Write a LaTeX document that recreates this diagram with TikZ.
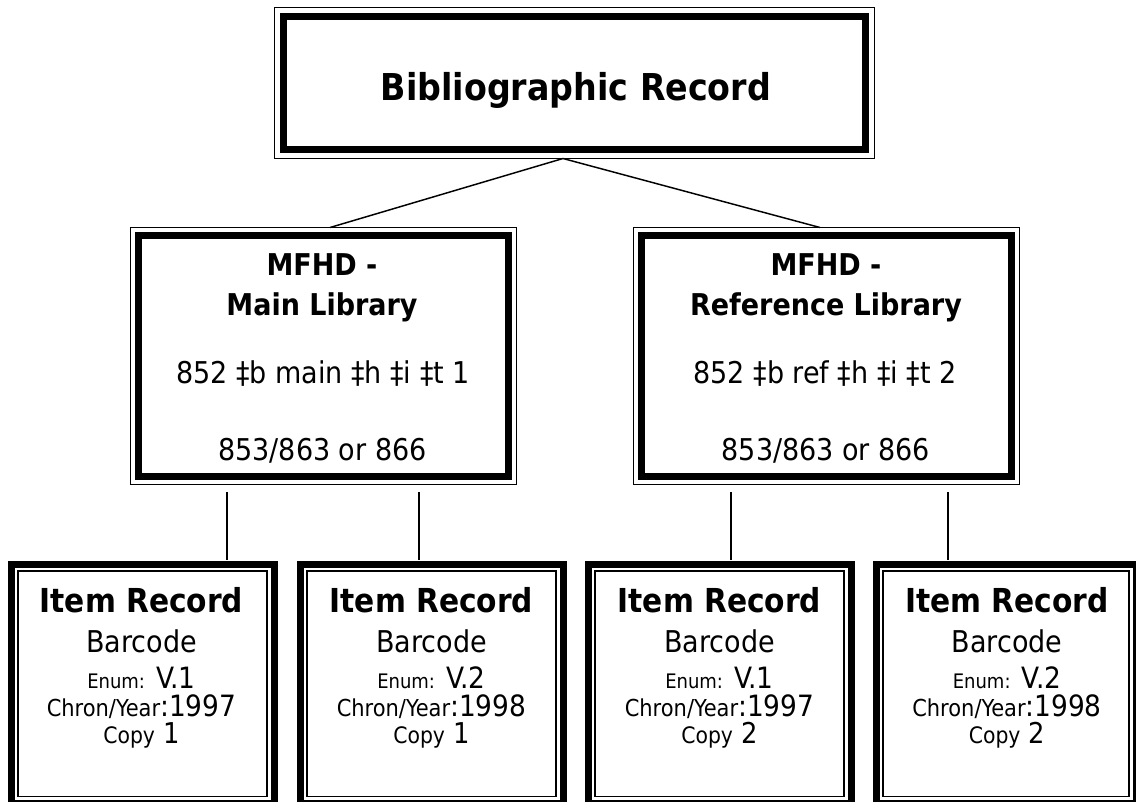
\documentclass[tikz,border=0pt]{standalone}
\usepackage{fontspec}
\setmainfont{DejaVu Sans Condensed}
\usetikzlibrary{calc}

\newcommand{\sz}[1]{\fontsize{#1}{#1}\selectfont}

\tikzset{
    thickbox/.style={draw, line width=5.25pt, outer sep=0pt, inner sep=0pt},
    thinline/.style={line width=1.1pt},
    link/.style={line width=1.1pt},
    txt/.style={anchor=base, inner sep=0pt},
    titlefont/.style={txt, font=\sz{27.75pt}\bfseries},
    headfont/.style={txt, font=\sz{22.5pt}\bfseries},
    bodyfont/.style={txt, font=\sz{22.5pt}},
    itemfont/.style={txt, font=\sz{24.75pt}\bfseries},
}

\begin{document}
\begin{tikzpicture}[x=0.75pt, y=-0.75pt]

    \useasboundingbox (0,0) rectangle (1136,801);
    \clip (0,0) rectangle (1136,801);

    % Bibliographic record box
    \node at (574.5, 83) (bib) [thickbox, minimum width=436.5pt, minimum height=99.75pt] {};
    \draw[thinline] ([shift={(-9,-9)}]bib.north west) rectangle ([shift={(9,9)}]bib.south east);
    \node at (576, 100) (bibtxt) [titlefont] {Bibliographic Record};

    % MFHD boxes
    \node at (323.5, 356) (mfhdL) [thickbox, minimum width=277.5pt, minimum height=180.75pt] {};
    \draw[thinline] ([shift={(-8,-8)}]mfhdL.north west) rectangle ([shift={(8,8)}]mfhdL.south east);
    \node at (826.5, 356) (mfhdR) [thickbox, minimum width=277.5pt, minimum height=180.75pt] {};
    \draw[thinline] ([shift={(-8,-8)}]mfhdR.north west) rectangle ([shift={(8,8)}]mfhdR.south east);

    % Text of the left MFHD
    \node at (322, 275) (mfhdLa) [headfont] {MFHD -};
    \node at (322, 315) (mfhdLb) [headfont] {Main Library};
    \node at (323, 383) (mfhdLc) [bodyfont] {852 ‡b main ‡h ‡i ‡t 1};
    \node at (322.5, 460) (mfhdLd) [bodyfont] {853/863 or 866};

    % Text of the right MFHD
    \node at (826, 275) (mfhdRa) [headfont] {MFHD -};
    \node at (826, 315) (mfhdRb) [headfont] {Reference Library};
    \node at (825, 383) (mfhdRc) [bodyfont] {852 ‡b ref ‡h ‡i ‡t 2};
    \node at (826, 460) (mfhdRd) [bodyfont] {853/863 or 866};

    % Item boxes
    \node at (142.5, 683.75) (item1) [thickbox, minimum width=197.25pt, minimum height=179.6pt] {};
    \draw[thinline] ([shift={(7,7)}]item1.north west) rectangle ([shift={(-7,-7)}]item1.south east);
    \node at (431.5, 683.75) (item2) [thickbox, minimum width=197.25pt, minimum height=179.6pt] {};
    \draw[thinline] ([shift={(7,7)}]item2.north west) rectangle ([shift={(-7,-7)}]item2.south east);
    \node at (719.5, 683.75) (item3) [thickbox, minimum width=197.25pt, minimum height=179.6pt] {};
    \draw[thinline] ([shift={(7,7)}]item3.north west) rectangle ([shift={(-7,-7)}]item3.south east);
    \node at (1006, 683.75) (item4) [thickbox, minimum width=195pt, minimum height=179.6pt] {};
    \draw[thinline] ([shift={(7,7)}]item4.north west) rectangle ([shift={(-7,-7)}]item4.south east);

    % Text of item 1
    \node at (141.5, 612) (item1a) [itemfont] {Item Record};
    \node at (141.5, 652) (item1b) [bodyfont] {Barcode};
    \node at (141.5, 688) (item1c) [txt] {{\sz{15pt}Enum:}{\sz{22pt} V.1}};
    \node at (141.5, 716) (item1d) [txt] {{\sz{17.5pt}Chron/Year}{\sz{22pt}:1997}};
    \node at (141.5, 743) (item1e) [txt] {{\sz{17pt}Copy}{\sz{21.5pt} 1}};

    % Text of item 2
    \node at (431.5, 612) (item2a) [itemfont] {Item Record};
    \node at (431.5, 652) (item2b) [bodyfont] {Barcode};
    \node at (431.5, 688) (item2c) [txt] {{\sz{15pt}Enum:}{\sz{22pt} V.2}};
    \node at (431.5, 716) (item2d) [txt] {{\sz{17.5pt}Chron/Year}{\sz{22pt}:1998}};
    \node at (431.5, 743) (item2e) [txt] {{\sz{17pt}Copy}{\sz{21.5pt} 1}};

    % Text of item 3
    \node at (719.5, 612) (item3a) [itemfont] {Item Record};
    \node at (719.5, 652) (item3b) [bodyfont] {Barcode};
    \node at (719.5, 688) (item3c) [txt] {{\sz{15pt}Enum:}{\sz{22pt} V.1}};
    \node at (719.5, 716) (item3d) [txt] {{\sz{17.5pt}Chron/Year}{\sz{22pt}:1997}};
    \node at (719.5, 743) (item3e) [txt] {{\sz{17pt}Copy}{\sz{21.5pt} 2}};

    % Text of item 4
    \node at (1007, 612) (item4a) [itemfont] {Item Record};
    \node at (1007, 652) (item4b) [bodyfont] {Barcode};
    \node at (1007, 688) (item4c) [txt] {{\sz{15pt}Enum:}{\sz{22pt} V.2}};
    \node at (1007, 716) (item4d) [txt] {{\sz{17.5pt}Chron/Year}{\sz{22pt}:1998}};
    \node at (1007, 743) (item4e) [txt] {{\sz{17pt}Copy}{\sz{21.5pt} 2}};

    % Lines from the record to the MFHDs
    \draw[link] ([shift={(-11.5,9)}]bib.south) -- ([shift={(6.5,-8)}]mfhdL.north);
    \draw[link] ([shift={(-11.5,9)}]bib.south) -- ([shift={(-6.5,-8)}]mfhdR.north);

    % Lines from the MFHDs to the items
    \draw[link] ([shift={(-96.5,15.5)}]mfhdL.south) -- ([shift={(84.5,-4)}]item1.north);
    \draw[link] ([shift={(95.5,15.5)}]mfhdL.south) -- ([shift={(-12.5,-4)}]item2.north);
    \draw[link] ([shift={(-95.5,15.5)}]mfhdR.south) -- ([shift={(11.5,-4)}]item3.north);
    \draw[link] ([shift={(121.5,15.5)}]mfhdR.south) -- ([shift={(-58,-4)}]item4.north);

\end{tikzpicture}
\end{document}
